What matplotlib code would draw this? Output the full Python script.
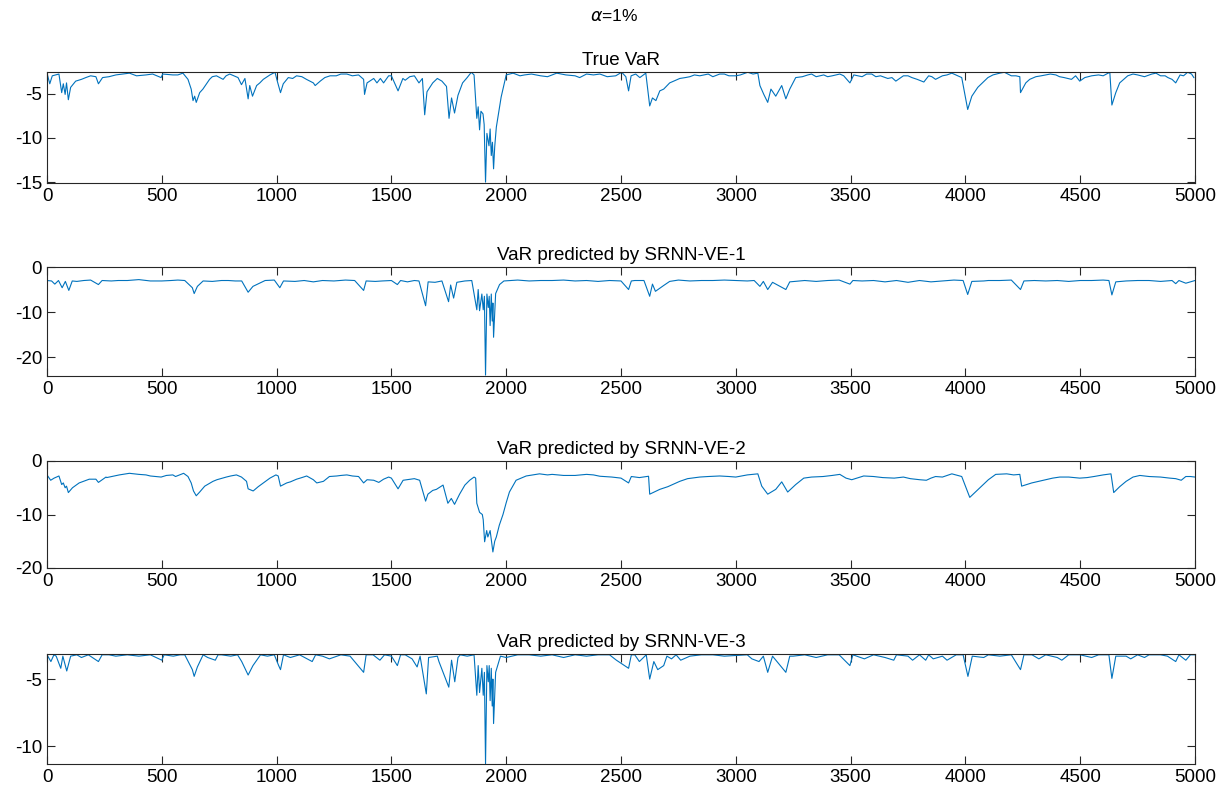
import matplotlib
matplotlib.use("Agg")
import matplotlib.pyplot as plt

plt.rcParams["font.family"] = ["Liberation Sans", "DejaVu Sans"]
plt.rcParams["axes.unicode_minus"] = False

# values read off the reference picture (x = observation index, y = VaR)
# main shape points
true_x = [0, 12, 23, 52, 64, 71, 79, 85, 93, 103, 125, 169, 213, 224, 242, 300, 359, 431, 497, 504,
          548, 592, 614, 628, 636, 643, 650, 665, 679, 708, 738, 767, 796, 832, 847, 862, 876, 883,
          895, 913, 927, 942, 971, 993, 1003, 1017, 1029, 1051, 1087, 1160, 1168, 1190, 1233, 1306,
          1357, 1379, 1383, 1394, 1423, 1437, 1452, 1466, 1488, 1500, 1529, 1550, 1600, 1620, 1635,
          1645, 1655, 1680, 1700, 1720, 1740, 1751, 1762, 1775, 1790, 1810, 1830, 1848, 1860, 1872,
          1878, 1884, 1890, 1899, 1904, 1910, 1916, 1925, 1930, 1935, 1940, 1945, 1950, 1957, 1978,
          2000, 2030, 2080, 2150, 2220, 2300, 2350, 2408, 2477, 2503, 2521, 2533, 2544, 2564, 2582,
          2608, 2625, 2637, 2652, 2669, 2686, 2712, 2756, 2800, 2843, 2880, 2930, 2970, 3000, 3052,
          3096, 3105, 3122, 3139, 3153, 3174, 3200, 3218, 3235, 3261, 3314, 3350, 3383, 3420, 3453,
          3497, 3514, 3550, 3592, 3630, 3662, 3697, 3730, 3767, 3819, 3854, 3900, 3941, 3984, 4010,
          4028, 4054, 4098, 4150, 4200, 4237, 4240, 4263, 4307, 4350, 4394, 4430, 4462, 4498, 4550,
          4600, 4629, 4638, 4655, 4672, 4707, 4750, 4812, 4850, 4882, 4916, 4935, 4968, 4995]
true_y = [-2.7, -3.9, -3.0, -2.8, -4.9, -3.9, -5.1, -3.8, -5.7, -4.3, -3.6, -3.2, -3.1, -3.9, -3.2,
          -2.9, -2.7, -2.9, -3.2, -2.8, -2.9, -2.7, -3.4, -4.5, -5.8, -5.3, -6.0, -4.9, -4.5, -3.4,
          -3.0, -3.4, -2.8, -3.2, -4.0, -3.3, -5.6, -4.1, -5.3, -4.1, -3.8, -3.4, -2.9, -2.6, -3.6,
          -4.9, -3.9, -3.2, -3.0, -3.8, -4.1, -3.6, -3.0, -2.8, -2.9, -3.4, -5.1, -3.8, -3.3, -3.8,
          -3.3, -3.8, -3.0, -3.0, -4.7, -3.3, -3.0, -3.8, -3.3, -7.4, -4.8, -3.8, -3.3, -3.6, -4.2,
          -7.8, -5.5, -7.2, -5.2, -3.8, -3.2, -2.6, -2.9, -7.8, -6.5, -9.1, -7.0, -7.3, -8.5, -15.0,
          -9.5, -10.9, -9.0, -12.0, -10.5, -13.5, -11.0, -8.8, -5.4, -2.9, -2.7, -2.9, -3.0, -2.7,
          -3.0, -2.8, -2.8, -3.0, -2.6, -3.1, -4.7, -3.0, -2.8, -3.2, -2.7, -6.4, -5.5, -5.8, -4.7,
          -4.5, -3.8, -3.3, -3.1, -3.0, -2.8, -2.8, -3.0, -3.0, -2.6, -2.7, -4.1, -5.1, -6.0, -4.5,
          -5.3, -4.1, -5.6, -4.5, -3.2, -2.9, -3.1, -2.9, -3.0, -2.8, -3.8, -2.9, -3.1, -2.8, -3.0,
          -3.3, -3.6, -3.0, -3.2, -3.7, -3.1, -3.0, -2.7, -3.2, -6.8, -5.3, -4.3, -3.2, -2.7, -3.0,
          -3.1, -4.9, -3.8, -3.1, -2.9, -2.9, -3.2, -3.4, -3.6, -3.0, -3.0, -2.6, -6.3, -4.9, -3.8,
          -3.0, -2.9, -2.8, -3.0, -3.2, -3.8, -2.9, -2.6, -3.2]
# small wiggles on the quiet stretches
true_extra = [(150, -3.4), (190, -3.0), (270, -3.1), (330, -2.8), (390, -3.0), (460, -2.8),
              (570, -2.9), (720, -3.1), (780, -3.0), (1070, -3.3), (1110, -3.1), (1130, -3.4),
              (1210, -3.2), (1260, -3.0), (1280, -2.8), (1330, -3.0), (1560, -3.5), (1580, -3.1),
              (2060, -3.0), (2110, -2.8), (2180, -3.1), (2260, -2.9), (2320, -3.2), (2380, -2.9),
              (2440, -3.1), (2780, -3.2), (2820, -2.9), (2900, -3.1), (2950, -2.8), (3020, -2.9),
              (3075, -2.8), (3290, -3.1), (3330, -2.8), (3400, -3.1), (3470, -3.0), (3570, -2.8),
              (3610, -3.1), (3680, -3.2), (3750, -3.0), (3790, -3.4), (3840, -3.0), (3870, -3.4),
              (3920, -2.9), (4120, -2.9), (4170, -2.6), (4220, -3.0), (4280, -3.4), (4330, -3.0),
              (4370, -2.8), (4410, -3.1), (4480, -3.0), (4520, -3.2), (4580, -2.9), (4730, -2.8),
              (4780, -3.1), (4830, -2.7), (4870, -3.0), (4900, -3.4), (4950, -3.0), (4985, -2.8)]

ve1_x = [0, 20, 34, 50, 66, 80, 95, 110, 160, 224, 240, 350, 500, 600, 633, 641, 655, 680, 760, 848,
         876, 897, 950, 1014, 1030, 1200, 1379, 1390, 1500, 1526, 1540, 1620, 1649, 1660, 1720, 1749,
         1758, 1771, 1785, 1850, 1872, 1878, 1884, 1894, 1900, 1905, 1910, 1916, 1922, 1926, 1930,
         1935, 1939, 1942, 1945, 1954, 1971, 1990, 2200, 2450, 2533, 2545, 2600, 2625, 2637, 2650,
         2686, 2712, 2900, 3080, 3105, 3120, 3139, 3160, 3218, 3235, 3400, 3497, 3510, 3700, 3990,
         4010, 4028, 4150, 4240, 4255, 4500, 4625, 4638, 4655, 4800, 4916, 4930, 5000]
ve1_y = [-3.0, -3.1, -3.8, -3.0, -4.6, -3.2, -5.2, -3.1, -3.0, -3.9, -3.0, -3.0, -3.1, -3.0, -4.6,
         -5.9, -4.3, -3.1, -3.0, -3.1, -5.6, -4.3, -3.0, -4.6, -3.1, -3.0, -5.2, -3.1, -3.0, -3.9,
         -3.0, -3.1, -8.6, -3.3, -3.1, -7.7, -4.0, -6.9, -3.4, -3.0, -9.5, -5.0, -9.7, -6.0, -9.5,
         -6.5, -24.0, -6.0, -9.0, -6.5, -13.0, -6.0, -12.0, -8.0, -15.6, -5.9, -3.9, -3.1, -3.0, -3.0,
         -5.0, -3.1, -3.0, -6.5, -3.8, -5.4, -4.1, -3.2, -3.0, -3.0, -4.3, -3.2, -5.0, -3.4, -5.0,
         -3.3, -3.0, -3.8, -3.0, -3.0, -3.0, -6.1, -3.2, -3.0, -5.0, -3.1, -3.0, -3.0, -6.2, -3.3,
         -3.0, -3.7, -3.0, -3.0]
ve1_extra = [(130, -3.2), (190, -2.9), (280, -3.1), (310, -3.0), (400, -2.8), (450, -3.1),
             (540, -3.0), (570, -2.9), (720, -3.2), (790, -3.0), (820, -3.1), (990, -2.9),
             (1080, -3.2), (1120, -3.0), (1160, -3.3), (1250, -3.1), (1300, -2.9), (1340, -3.0),
             (1430, -3.2), (1460, -3.1), (1570, -3.3), (1600, -3.0), (1690, -3.4), (1820, -3.1),
             (2050, -2.9), (2100, -3.1), (2150, -3.0), (2250, -2.9), (2300, -3.1), (2350, -3.0),
             (2400, -3.2), (2500, -3.1), (2560, -3.0), (2750, -2.9), (2800, -3.1), (2850, -3.0),
             (2950, -2.9), (3000, -3.0), (3050, -3.1), (3300, -3.0), (3350, -3.2), (3450, -2.9),
             (3550, -3.1), (3600, -3.0), (3650, -3.3), (3750, -3.4), (3800, -3.0), (3850, -3.3),
             (3900, -3.1), (3950, -2.9), (4080, -3.1), (4100, -3.0), (4200, -2.9), (4300, -3.0),
             (4350, -3.1), (4400, -3.0), (4450, -3.2), (4550, -3.0), (4600, -2.9), (4700, -3.1),
             (4750, -3.0), (4850, -3.2), (4900, -3.0), (4960, -3.6)]

ve2_x = [0, 16, 31, 52, 64, 71, 79, 85, 93, 111, 140, 184, 213, 224, 257, 315, 359, 431, 497, 548,
         595, 614, 628, 638, 650, 665, 687, 723, 781, 825, 847, 869, 876, 898, 920, 942, 971, 997,
         1007, 1017, 1044, 1087, 1131, 1160, 1175, 1204, 1262, 1306, 1357, 1379, 1394, 1423, 1445,
         1466, 1488, 1500, 1529, 1551, 1600, 1623, 1649, 1659, 1680, 1696, 1725, 1746, 1761, 1775,
         1797, 1820, 1841, 1860, 1867, 1872, 1884, 1896, 1900, 1906, 1915, 1920, 1930, 1942, 1950,
         1957, 1970, 1986, 2000, 2014, 2043, 2087, 2145, 2250, 2350, 2408, 2533, 2545, 2580, 2620,
         2625, 2669, 2704, 2756, 2843, 2930, 3000, 3096, 3113, 3139, 3174, 3200, 3226, 3261, 3296,
         3380, 3453, 3505, 3557, 3640, 3730, 3801, 3870, 3941, 3984, 4019, 4063, 4132, 4237, 4245,
         4289, 4350, 4411, 4498, 4560, 4634, 4646, 4672, 4760, 4850, 4916, 4960, 5000]
ve2_y = [-2.6, -3.6, -3.2, -2.8, -4.4, -4.1, -5.0, -4.7, -5.9, -5.0, -4.1, -3.4, -3.4, -4.0, -3.0,
         -2.6, -2.3, -2.6, -3.0, -2.6, -2.3, -2.9, -4.1, -5.6, -6.5, -5.8, -4.7, -3.8, -3.0, -2.6,
         -3.0, -3.8, -5.2, -5.6, -4.8, -4.1, -3.2, -2.6, -2.8, -4.7, -4.1, -3.4, -2.8, -3.5, -4.1,
         -3.8, -2.8, -2.6, -2.9, -4.1, -3.5, -3.6, -4.0, -3.4, -3.0, -3.2, -5.2, -3.6, -3.3, -3.6,
         -7.5, -6.2, -5.5, -5.3, -4.5, -7.9, -7.0, -8.1, -6.2, -4.5, -3.6, -3.0, -3.2, -7.9, -9.6,
         -10.0, -11.0, -15.1, -13.0, -14.2, -13.0, -17.0, -15.0, -14.2, -12.0, -10.0, -7.8, -5.8,
         -3.6, -2.8, -2.4, -2.7, -2.5, -2.85, -4.1, -2.9, -3.1, -2.85, -6.2, -5.3, -4.8, -3.8, -3.0,
         -2.8, -3.0, -2.4, -4.7, -6.2, -5.3, -3.9, -5.8, -4.4, -3.2, -2.9, -2.5, -3.5, -2.8, -3.1,
         -3.0, -3.5, -2.9, -2.4, -2.9, -6.8, -5.0, -2.5, -2.5, -4.7, -4.1, -3.5, -3.0, -3.2, -2.9,
         -2.4, -5.9, -4.8, -2.7, -3.0, -3.3, -2.9, -3.0]
ve2_extra = [(260, -3.1), (400, -2.5), (450, -2.8), (520, -2.7), (560, -2.9), (740, -3.5),
             (800, -2.8), (1060, -3.9), (1110, -3.1), (1230, -2.9), (1280, -2.7), (1330, -2.8),
             (2180, -2.6), (2200, -2.5), (2300, -2.7), (2380, -2.6), (2460, -3.0), (2500, -3.2),
             (2790, -3.3), (2880, -2.9), (2970, -2.9), (3050, -2.6), (3330, -3.0), (3420, -2.7),
             (3480, -3.2), (3600, -2.9), (3690, -3.2), (3760, -3.3), (3830, -3.6), (3850, -3.2),
             (3900, -3.0), (4100, -3.5), (4180, -2.4), (4210, -2.6), (4320, -3.8), (4380, -3.2),
             (4450, -3.0), (4530, -3.1), (4600, -2.6), (4700, -3.8), (4730, -3.0), (4800, -2.9),
             (4890, -3.2), (4940, -3.6), (4980, -2.9)]

ve3_x = [0, 17, 30, 60, 69, 86, 103, 180, 224, 240, 500, 510, 600, 633, 641, 655, 680, 733, 745, 848,
         876, 897, 930, 1009, 1017, 1030, 1155, 1170, 1379, 1390, 1526, 1540, 1612, 1625, 1652, 1662,
         1707, 1750, 1762, 1776, 1790, 1860, 1872, 1878, 1884, 1894, 1900, 1905, 1910, 1916, 1922,
         1926, 1930, 1935, 1939, 1942, 1945, 1954, 1975, 2100, 2400, 2533, 2545, 2610, 2625, 2643,
         2660, 2686, 2700, 2900, 3101, 3120, 3139, 3160, 3218, 3235, 3400, 3497, 3510, 3688, 3700,
         3827, 3840, 3990, 4011, 4030, 4200, 4240, 4255, 4500, 4625, 4638, 4655, 4800, 4916, 4930,
         5000]
ve3_y = [-3.2, -3.7, -3.2, -4.2, -3.3, -4.4, -3.3, -3.2, -3.7, -3.2, -3.6, -3.2, -3.2, -4.3, -4.8,
         -4.1, -3.2, -3.6, -3.2, -3.7, -4.7, -4.0, -3.2, -4.0, -4.3, -3.2, -3.7, -3.2, -4.5, -3.2,
         -4.0, -3.2, -4.1, -3.3, -6.1, -3.4, -3.7, -5.6, -3.6, -5.2, -3.4, -3.2, -6.2, -4.0, -6.0,
         -4.2, -6.2, -4.5, -11.3, -4.0, -5.2, -4.0, -6.6, -4.2, -7.0, -5.0, -8.3, -4.5, -3.3, -3.2,
         -3.2, -4.2, -3.2, -3.2, -5.0, -3.7, -4.3, -4.0, -3.3, -3.2, -3.7, -3.3, -4.5, -3.3, -4.5,
         -3.3, -3.2, -4.0, -3.2, -3.6, -3.2, -3.6, -3.2, -3.2, -4.8, -3.3, -3.2, -4.3, -3.2, -3.2,
         -3.2, -4.95, -3.3, -3.2, -3.7, -3.2, -3.2]
ve3_extra = [(40, -3.3), (130, -3.2), (150, -3.4), (270, -3.2), (300, -3.3), (350, -3.2),
             (400, -3.3), (450, -3.2), (550, -3.3), (580, -3.2), (700, -3.4), (760, -3.2),
             (800, -3.3), (830, -3.2), (960, -3.3), (990, -3.2), (1060, -3.4), (1100, -3.2),
             (1200, -3.3), (1230, -3.5), (1280, -3.2), (1320, -3.3), (1420, -3.2), (1450, -3.6),
             (1470, -3.2), (1500, -3.3), (1560, -3.2), (1590, -3.5), (1700, -3.3), (1800, -3.2),
             (1830, -3.3), (2000, -3.4), (2050, -3.2), (2150, -3.3), (2200, -3.2), (2250, -3.4),
             (2300, -3.2), (2350, -3.3), (2450, -3.2), (2480, -3.6), (2560, -3.2), (2580, -3.7),
             (2720, -3.5), (2740, -3.2), (2760, -3.6), (2800, -3.3), (2850, -3.2), (2950, -3.3),
             (3050, -3.2), (3070, -3.5), (3250, -3.3), (3300, -3.2), (3350, -3.4), (3450, -3.2),
             (3560, -3.5), (3600, -3.2), (3650, -3.4), (3750, -3.3), (3770, -3.6), (3800, -3.2),
             (3860, -3.5), (3900, -3.3), (3920, -3.6), (3960, -3.2), (4080, -3.4), (4100, -3.2),
             (4150, -3.3), (4290, -3.2), (4320, -3.5), (4350, -3.2), (4400, -3.4), (4420, -3.6),
             (4450, -3.2), (4550, -3.4), (4580, -3.2), (4700, -3.3), (4720, -3.5), (4750, -3.2),
             (4780, -3.4), (4850, -3.2), (4880, -3.3), (4960, -3.6), (4980, -3.2)]

titles = ["True VaR", "VaR predicted by SRNN-VE-1",
          "VaR predicted by SRNN-VE-2", "VaR predicted by SRNN-VE-3"]
series = [(true_x, true_y, true_extra), (ve1_x, ve1_y, ve1_extra),
          (ve2_x, ve2_y, ve2_extra), (ve3_x, ve3_y, ve3_extra)]
ylims = [(-15.1, -2.57), (-24.2, 0), (-20, 0), (-11.3, -3.14)]
yticks = [[-15, -10, -5], [-20, -10, 0], [-20, -10, 0], [-10, -5]]
xticks = list(range(0, 5001, 500))

W, H = 1228, 800
fig = plt.figure(figsize=(W / 100, H / 100), dpi=100)
rows = [(72, 183), (267, 376), (461, 568), (654, 764)]
left, right = 47, 1195
axis_col = "#262626"

for (top, bot), (x, y, extra), title, yl, yt in zip(rows, series, titles, ylims, yticks):
    pts = sorted(list(zip(x, y)) + extra)
    ax = fig.add_axes([left / W, 1 - bot / H, (right - left) / W, (bot - top) / H])
    ax.plot([p[0] for p in pts], [p[1] for p in pts], color="#0072BD", lw=0.8)
    ax.set_xlim(0, 5000)
    ax.set_ylim(*yl)
    ax.set_xticks(xticks)
    ax.set_yticks(yt)
    ax.set_title(title, fontsize=13.5, pad=5, color="black")
    ax.tick_params(direction="in", top=True, right=True, length=6, width=0.8,
                   labelsize=13.5, colors=axis_col, labelcolor="black")
    for s in ax.spines.values():
        s.set_color(axis_col)
        s.set_linewidth(0.8)

fig.text(0.5, 1 - 16 / H, r"$\alpha$=1%", ha="center", va="center", fontsize=12.5)

fig.savefig("out.png", dpi=100)
